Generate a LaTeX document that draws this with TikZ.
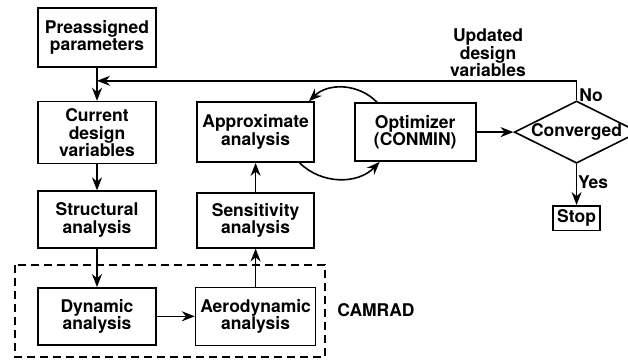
\documentclass[tikz,border=0pt]{standalone}
\usepackage{fontspec}
\setmainfont{TeX Gyre Heros}
\usetikzlibrary{positioning,shapes.geometric,arrows.meta}

\begin{document}
\begin{tikzpicture}[%
		x=1pt,y=1pt,
		line width=1.6pt,
		>={Stealth[length=13pt,width=10pt]},
		font=\fontsize{17.5}{17.5}\selectfont\bfseries,
		blk/.style={%
			draw,
			align=center,
			inner sep=1pt,
			minimum width=118pt,
			minimum height=58pt
		},
		decide/.style={%
			draw,
			diamond,
			aspect=2,
			inner sep=0pt,
			minimum width=118pt,
			minimum height=60pt
		},
		lbl/.style={align=center}
		]
		\useasboundingbox (0,0) rectangle (628,-359);

		\node[blk,minimum height=59pt] (pre) at (97,-37.5)            {Preassigned\\parameters};
		\node[blk,minimum height=62pt] (cur) [below=33pt of pre]      {Current\\design\\variables};
		\node[blk,minimum height=57pt] (str) [below=26pt of cur]      {Structural\\analysis};
		\node[blk,minimum height=57pt] (dyn) [below=38pt of str]      {Dynamic\\analysis};
		\node[blk,minimum width=120pt] (aero) [right=38pt of dyn]     {Aerodynamic\\analysis};
		\node[blk,minimum width=117pt,minimum height=55pt] (sens) [above=38pt of aero] {Sensitivity\\analysis};
		\node[blk,minimum width=117pt,minimum height=60pt] (appr) [above=29pt of sens] {Approximate\\analysis};
		\node[blk,minimum width=121pt] (opt) [right=39pt of appr]     {Optimizer\\(CONMIN)};
		\node[decide] (conv) [right=37pt of opt]                      {Converged};
		\node[draw,inner sep=4pt] (stop) [below=41pt of conv]         {Stop};
		\coordinate[below=13pt of pre] (jn);

		\node[lbl] (upd) at (488,-53)  {Updated\\design\\variables};
		\node (no) at (591,-95)        {No};
		\node (yes) at (593,-182)      {Yes};
		\node (cam) at (376,-310)      {CAMRAD};

		% CAMRAD group
		\draw[dash pattern=on 8pt off 5pt] (15,-265) rectangle (325,-357);

		\draw[->] (pre) -- (cur);
		\draw[->] (cur) -- (str);
		\draw[->] (str) -- (dyn);
		\draw[->] (dyn) -- (aero);
		\draw[->] (aero) -- (sens);
		\draw[->] (sens) -- (appr);
		\draw[->] (opt) -- (conv);
		\draw[->] (conv) -- (stop);

		\draw[->] (conv.north) |- (jn);
		\draw[->] (opt.142) to[bend right=45] (appr.30);
		\draw[->] (appr.-35) to[bend right=45] (opt.-140);
\end{tikzpicture}
\end{document}
